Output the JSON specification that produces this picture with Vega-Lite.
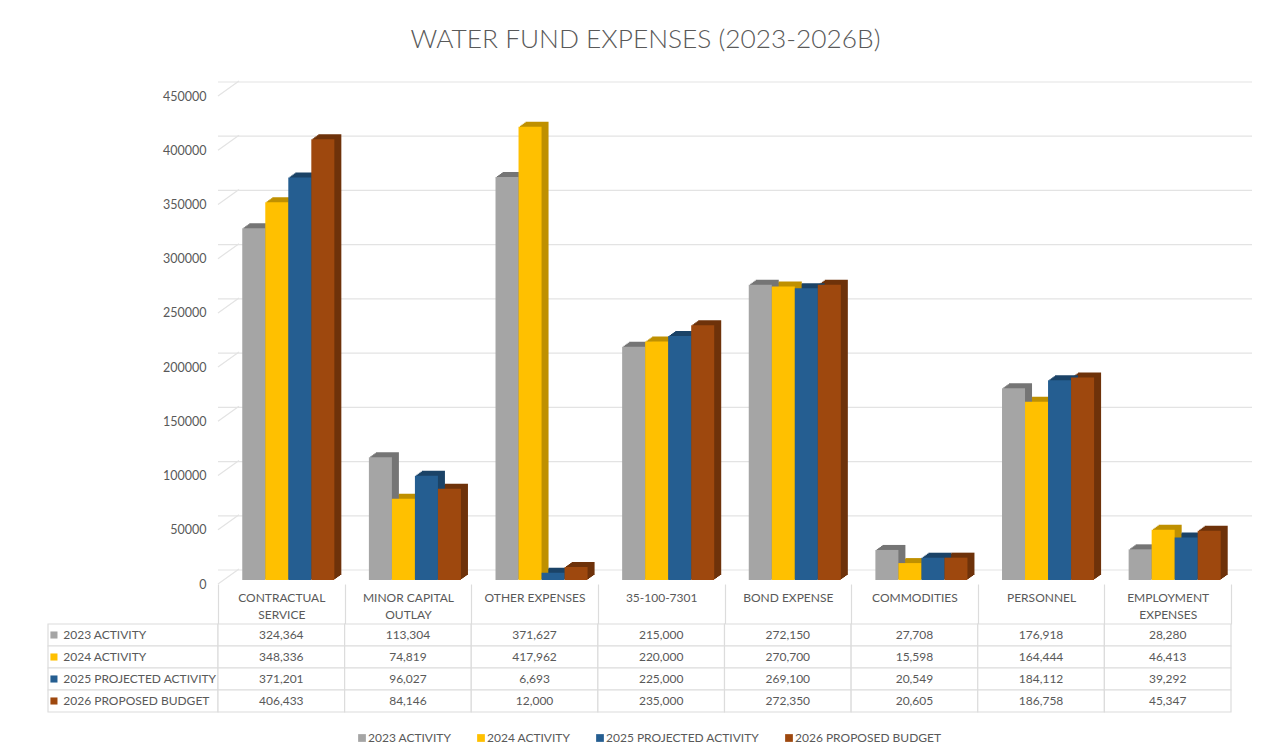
{"$schema":"https://vega.github.io/schema/vega-lite/v6.json","padding":{"left":47,"top":27,"right":10,"bottom":5},"background":"white","title":{"text":"WATER FUND EXPENSES (2023-2026B)","font":"Lato","fontWeight":300,"fontSize":26.3,"color":"#595959","anchor":"start","offset":27,"dx":363},"config":{"view":{"stroke":null},"font":"Lato"},"datasets":{"bars":[{"category":"CONTRACTUAL SERVICE","series":"2023 ACTIVITY","value":324364},{"category":"CONTRACTUAL SERVICE","series":"2024 ACTIVITY","value":348336},{"category":"CONTRACTUAL SERVICE","series":"2025 PROJECTED ACTIVITY","value":371201},{"category":"CONTRACTUAL SERVICE","series":"2026 PROPOSED BUDGET","value":406433},{"category":"MINOR CAPITAL OUTLAY","series":"2023 ACTIVITY","value":113304},{"category":"MINOR CAPITAL OUTLAY","series":"2024 ACTIVITY","value":74819},{"category":"MINOR CAPITAL OUTLAY","series":"2025 PROJECTED ACTIVITY","value":96027},{"category":"MINOR CAPITAL OUTLAY","series":"2026 PROPOSED BUDGET","value":84146},{"category":"OTHER EXPENSES","series":"2023 ACTIVITY","value":371627},{"category":"OTHER EXPENSES","series":"2024 ACTIVITY","value":417962},{"category":"OTHER EXPENSES","series":"2025 PROJECTED ACTIVITY","value":6693},{"category":"OTHER EXPENSES","series":"2026 PROPOSED BUDGET","value":12000},{"category":"35-100-7301","series":"2023 ACTIVITY","value":215000},{"category":"35-100-7301","series":"2024 ACTIVITY","value":220000},{"category":"35-100-7301","series":"2025 PROJECTED ACTIVITY","value":225000},{"category":"35-100-7301","series":"2026 PROPOSED BUDGET","value":235000},{"category":"BOND EXPENSE","series":"2023 ACTIVITY","value":272150},{"category":"BOND EXPENSE","series":"2024 ACTIVITY","value":270700},{"category":"BOND EXPENSE","series":"2025 PROJECTED ACTIVITY","value":269100},{"category":"BOND EXPENSE","series":"2026 PROPOSED BUDGET","value":272350},{"category":"COMMODITIES","series":"2023 ACTIVITY","value":27708},{"category":"COMMODITIES","series":"2024 ACTIVITY","value":15598},{"category":"COMMODITIES","series":"2025 PROJECTED ACTIVITY","value":20549},{"category":"COMMODITIES","series":"2026 PROPOSED BUDGET","value":20605},{"category":"PERSONNEL","series":"2023 ACTIVITY","value":176918},{"category":"PERSONNEL","series":"2024 ACTIVITY","value":164444},{"category":"PERSONNEL","series":"2025 PROJECTED ACTIVITY","value":184112},{"category":"PERSONNEL","series":"2026 PROPOSED BUDGET","value":186758},{"category":"EMPLOYMENT EXPENSES","series":"2023 ACTIVITY","value":28280},{"category":"EMPLOYMENT EXPENSES","series":"2024 ACTIVITY","value":46413},{"category":"EMPLOYMENT EXPENSES","series":"2025 PROJECTED ACTIVITY","value":39292},{"category":"EMPLOYMENT EXPENSES","series":"2026 PROPOSED BUDGET","value":45347}],"ticks":[{"tick":0},{"tick":50000},{"tick":100000},{"tick":150000},{"tick":200000},{"tick":250000},{"tick":300000},{"tick":350000},{"tick":400000},{"tick":450000}],"rows":[{"series":"2023 ACTIVITY"},{"series":"2024 ACTIVITY"},{"series":"2025 PROJECTED ACTIVITY"},{"series":"2026 PROPOSED BUDGET"}]},"columns":2,"bounds":"flush","align":"each","spacing":{"row":44,"column":0},"resolve":{"legend":{"color":"independent"}},"concat":[{"width":170,"height":488,"data":{"name":"rows"},"mark":{"type":"text","opacity":0,"text":""},"encoding":{}},{"width":1013,"height":488,"resolve":{"scale":{"xOffset":"independent"}},"layer":[{"data":{"name":"ticks"},"mark":{"type":"rule","color":"#e3e3e3","strokeWidth":1.2,"xOffset":21,"x2Offset":21,"yOffset":-10,"y2Offset":-10},"encoding":{"y":{"field":"tick","type":"quantitative","scale":{"domain":[0,450000]},"title":null,"axis":{"domain":false,"ticks":false,"grid":false,"values":[0,50000,100000,150000,200000,250000,300000,350000,400000,450000],"format":"d","labelColor":"#595959","labelFont":"Lato","labelFontSize":12.5,"labelPadding":12,"labelOffset":4}}}},{"data":{"name":"ticks"},"mark":{"type":"rule","color":"#e3e3e3","strokeWidth":1.2,"yOffset":4,"y2Offset":-11},"encoding":{"x":{"value":0},"x2":{"value":21},"y":{"field":"tick","type":"quantitative"},"y2":{"field":"tick"}}},{"data":{"name":"bars"},"resolve":{"scale":{"xOffset":"independent"}},"encoding":{"x":{"field":"category","type":"nominal","sort":null,"scale":{"paddingInner":0,"paddingOuter":0},"title":null,"axis":{"domain":false,"tickBand":"extent","ticks":true,"tickColor":"#dcdcdc","tickSize":40,"offset":4,"tickWidth":1.2,"labelAngle":0,"labelColor":"#595959","labelFont":"Lato","labelFontSize":12,"labelPadding":-27,"labelLineHeight":17,"labelBaseline":"middle","labelExpr":"{'CONTRACTUAL SERVICE':['CONTRACTUAL','SERVICE'],'MINOR CAPITAL OUTLAY':['MINOR CAPITAL','OUTLAY'],'EMPLOYMENT EXPENSES':['EMPLOYMENT','EXPENSES']}[datum.value] || datum.value"}},"y":{"field":"value","type":"quantitative","title":null}},"layer":[{"mark":{"type":"bar","yOffset":-1,"y2Offset":-1},"encoding":{"xOffset":{"field":"series","type":"nominal","sort":null,"scale":{"range":[8.4,135],"paddingOuter":0.75,"paddingInner":0}},"fill":{"field":"series","type":"nominal","sort":null,"legend":null,"scale":{"domain":["2023 ACTIVITY","2024 ACTIVITY","2025 PROJECTED ACTIVITY","2026 PROPOSED BUDGET"],"range":["#757575","#BF9000","#1B4367","#6E320A"]}}}},{"mark":{"type":"bar","yOffset":-2,"y2Offset":-2},"encoding":{"xOffset":{"field":"series","type":"nominal","sort":null,"scale":{"range":[9.8,136.4],"paddingOuter":0.75,"paddingInner":0}},"fill":{"field":"series","type":"nominal","sort":null,"legend":null}}},{"mark":{"type":"bar","yOffset":-3,"y2Offset":-3},"encoding":{"xOffset":{"field":"series","type":"nominal","sort":null,"scale":{"range":[11.2,137.8],"paddingOuter":0.75,"paddingInner":0}},"fill":{"field":"series","type":"nominal","sort":null,"legend":null}}},{"mark":{"type":"bar","yOffset":-4,"y2Offset":-4},"encoding":{"xOffset":{"field":"series","type":"nominal","sort":null,"scale":{"range":[12.6,139.2],"paddingOuter":0.75,"paddingInner":0}},"fill":{"field":"series","type":"nominal","sort":null,"legend":null}}},{"mark":{"type":"bar","yOffset":-5,"y2Offset":-5},"encoding":{"xOffset":{"field":"series","type":"nominal","sort":null,"scale":{"range":[14,140.6],"paddingOuter":0.75,"paddingInner":0}},"fill":{"field":"series","type":"nominal","sort":null,"legend":null}}},{"mark":{"type":"bar"},"encoding":{"xOffset":{"field":"series","type":"nominal","sort":null,"scale":{"range":[7,133.6],"paddingOuter":0.75,"paddingInner":0}},"color":{"field":"series","type":"nominal","sort":null,"legend":{"orient":"none","legendX":138,"legendY":640,"title":null,"direction":"horizontal","columns":4,"symbolType":"square","symbolSize":60,"labelColor":"#595959","labelFont":"Lato","labelFontSize":12,"labelOffset":0,"columnPadding":23},"scale":{"domain":["2023 ACTIVITY","2024 ACTIVITY","2025 PROJECTED ACTIVITY","2026 PROPOSED BUDGET"],"range":["#A5A5A5","#FFC000","#255E91","#9E480E"]}}}}]}]},{"width":170,"height":88,"data":{"name":"rows"},"encoding":{"y":{"field":"series","type":"nominal","sort":null,"axis":null,"scale":{"paddingInner":0,"paddingOuter":0}}},"layer":[{"mark":{"type":"rect","fill":"white","stroke":"#dcdcdc","strokeWidth":1.2}},{"mark":{"type":"square","size":50,"opacity":1},"encoding":{"x":{"datum":0.035,"type":"quantitative","scale":{"domain":[0,1]},"axis":null},"color":{"field":"series","type":"nominal","sort":null,"legend":null,"scale":{"domain":["2023 ACTIVITY","2024 ACTIVITY","2025 PROJECTED ACTIVITY","2026 PROPOSED BUDGET"],"range":["#A5A5A5","#FFC000","#255E91","#9E480E"]}}}},{"mark":{"type":"text","align":"left","color":"#595959","font":"Lato","fontSize":12},"encoding":{"x":{"datum":0.09,"type":"quantitative"},"text":{"field":"series"}}}]},{"width":1013,"height":88,"data":{"name":"bars"},"encoding":{"x":{"field":"category","type":"nominal","sort":null,"axis":null,"scale":{"paddingInner":0,"paddingOuter":0}},"y":{"field":"series","type":"nominal","sort":null,"axis":null,"scale":{"paddingInner":0,"paddingOuter":0}}},"layer":[{"mark":{"type":"rect","fill":"white","stroke":"#dcdcdc","strokeWidth":1.2}},{"mark":{"type":"text","color":"#595959","font":"Lato","fontSize":12},"encoding":{"text":{"field":"value","type":"quantitative","format":","}}}]}]}
